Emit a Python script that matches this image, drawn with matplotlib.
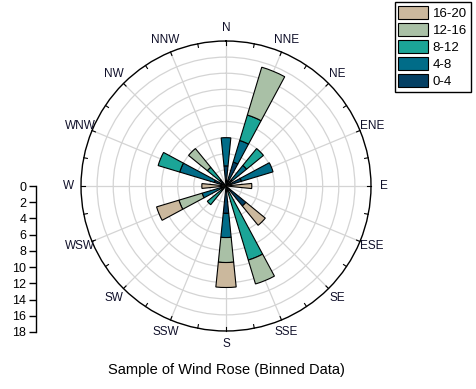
import matplotlib
matplotlib.use("Agg")
import matplotlib.pyplot as plt
import numpy as np
from matplotlib.patches import Patch

plt.rcParams['font.family'] = ['Liberation Sans', 'DejaVu Sans']

# Directions (compass, clockwise from N)
directions = ['N', 'NNE', 'NE', 'ENE', 'E', 'ESE', 'SE', 'SSE',
              'S', 'SSW', 'SW', 'WSW', 'W', 'WNW', 'NW', 'NNW']

# Speed bins, stacked from the centre outward
bins = ['0-4', '4-8', '8-12', '12-16', '16-20']
colors = ['#033F63', '#016C88', '#1BA597', '#A9C0A6', '#CBB89D']

speed_0_4 = [2.5, 3.1, 1.0, 2.0, 0, 0, 3.2, 0, 3.4, 0, 0, 0, 0, 1.5, 0, 0]
speed_4_8 = [3.5, 2.8, 2.3, 4.1, 0, 0, 0, 0, 3.0, 0, 0, 3.1, 0, 4.5, 1.0, 0]
speed_8_12 = [0, 3.3, 2.7, 0, 0, 0, 0, 9.6, 0, 0, 3.0, 0, 0, 2.8, 2.0, 0]
speed_12_16 = [0, 6.2, 0, 0, 0, 0, 0, 3.1, 3.1, 0, 0, 3.0, 0, 0, 3.0, 0]
speed_16_20 = [0, 0, 0, 0, 3.2, 0, 3.1, 0, 3.1, 0, 0, 2.9, 3.0, 0, 0, 0]

radial_ticks = [0, 2, 4, 6, 8, 10, 12, 14, 16, 18]

series = [speed_0_4, speed_4_8, speed_8_12, speed_12_16, speed_16_20]

fig = plt.figure(figsize=(4.76, 3.89), dpi=100)
ax = fig.add_axes([0.1702, 0.1491, 0.6092, 0.7455], projection='polar')
ax.set_theta_zero_location('N')
ax.set_theta_direction(-1)
ax.set_axisbelow(True)

theta = np.deg2rad(np.arange(len(directions)) * 22.5)
width = np.deg2rad(11.5)
bottom = np.zeros(len(directions))
for vals, col in zip(series, colors):
    vals = np.array(vals, dtype=float)
    mask = vals > 0
    ax.bar(theta[mask], vals[mask], width=width, bottom=bottom[mask],
           color=col, edgecolor='black', linewidth=0.8, zorder=3)
    bottom += vals

ax.set_ylim(0, 18)
ax.set_rgrids(radial_ticks[1:-1], labels=[])
ax.set_thetagrids(np.arange(16) * 22.5, labels=[])
ax.grid(color='#d4d4d4', linewidth=0.9)
ax.spines['polar'].set_color('black')
ax.spines['polar'].set_linewidth(1.0)
ax.tick_params(axis='x', length=0)

# small ticks around the rim
for a in np.arange(32) * 11.25:
    ax.plot([np.deg2rad(a)] * 2, [17.55, 18], color='black', lw=0.8,
            clip_on=False, zorder=4)

for d, a in zip(directions, theta):
    ax.text(a, 19.6, d, ha='center', va='center', fontsize=8.5,
            color='#10102a')

# radial scale on the left
sax = fig.add_axes([36 / 476, (389 - 332) / 389, 0.001, 146 / 389])
sax.set_ylim(18, 0)
sax.set_yticks(radial_ticks)
sax.set_xticks([])
for s in ['top', 'right', 'bottom']:
    sax.spines[s].set_visible(False)
sax.spines['left'].set_linewidth(1.0)
sax.tick_params(axis='y', direction='out', length=5, width=1,
                labelsize=9, pad=2)
sax.patch.set_visible(False)

fig.text(226 / 476, 1 - 370 / 389, 'Sample of Wind Rose (Binned Data)',
         ha='center', va='center', fontsize=10.5)

handles = [Patch(facecolor=c, edgecolor='black', linewidth=0.8, label=b)
           for b, c in zip(bins, colors)][::-1]
leg = fig.legend(handles=handles, loc='upper right',
                 bbox_to_anchor=(471 / 476, 1 - 2 / 389), fontsize=9.5,
                 fancybox=False, edgecolor='black', framealpha=1,
                 handlelength=2.2, handleheight=1.1, labelspacing=0.25,
                 handletextpad=0.4, borderpad=0.3, borderaxespad=0)
leg.get_frame().set_linewidth(1.0)

fig.savefig('out.png', dpi=100)
